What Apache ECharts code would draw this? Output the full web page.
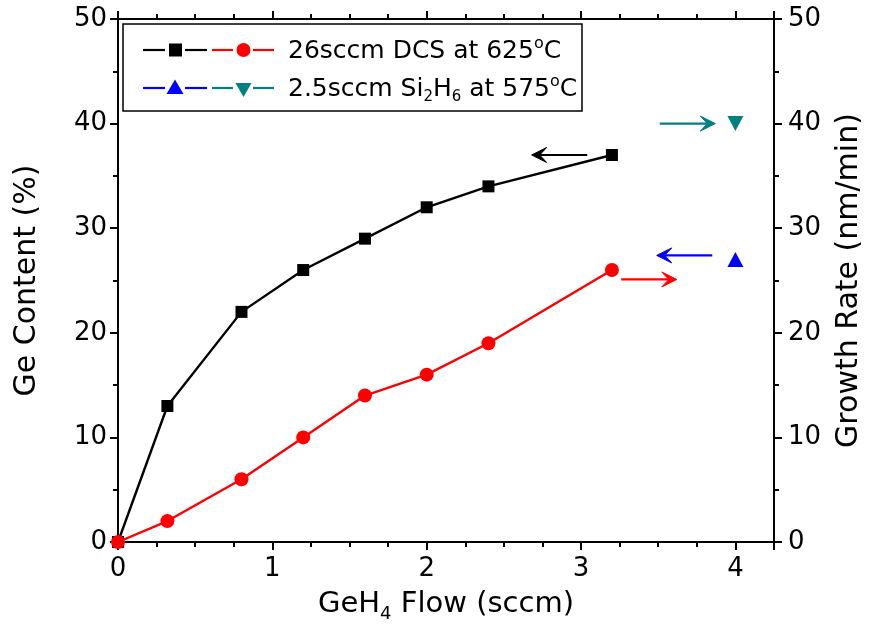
<!DOCTYPE html>
<html>
<head>
<meta charset="utf-8">
<script src="https://cdn.jsdelivr.net/npm/echarts@6/dist/echarts.min.js"></script>
<style>
html,body{margin:0;padding:0;background:#fff;}
#chart{width:872px;height:628px;}
</style>
</head>
<body>
<div id="chart"></div>
<script>
// ---- data ----
const flowDCS = [0, 0.32, 0.8, 1.2, 1.6, 2.0, 2.4, 3.2];
const geContentDCS = [0, 13, 22, 26, 29, 32, 34, 37];
const growthRateDCS = [0, 2, 6, 10, 14, 16, 19, 26];
const flowSi2H6 = [4];
const geContentSi2H6 = [27];
const growthRateSi2H6 = [40];
// arrows: [xTail, yTail, xHead, yHead] in data units
const arrowSegments = [
  [3.04, 37, 2.68, 37],
  [3.26, 25.1, 3.62, 25.1],
  [3.85, 27.4, 3.49, 27.4],
  [3.51, 40, 3.87, 40]
];
const xTicks = [0, 1, 2, 3, 4];
const yTicks = [0, 10, 20, 30, 40, 50];

// ---- styles ----
const arrowColors = ['#000000', '#ff0000', '#0000ff', '#008080'];
const FONT = 'DejaVu Sans';

const chart = echarts.init(document.getElementById('chart'), null, {renderer: 'canvas'});

const axisLineStyle = {lineStyle: {color: '#000', width: 2}};
const tickStyle = {lineStyle: {color: '#000', width: 2}};

const baseX = {
  type: 'value', min: xTicks[0], max: 4.25, interval: 1,
  axisLine: {show: true, onZero: false, ...axisLineStyle},
  axisTick: {show: true, inside: false, length: 8, ...tickStyle},
  minorTick: {show: true, splitNumber: 4, length: 5, lineStyle: {color: '#000', width: 2}},
  splitLine: {show: false}
};
const baseY = {
  type: 'value', min: yTicks[0], max: yTicks[yTicks.length - 1], interval: 10,
  axisLine: {show: true, onZero: false, ...axisLineStyle},
  axisTick: {show: true, inside: false, length: 8, ...tickStyle},
  minorTick: {show: true, splitNumber: 2, length: 5, lineStyle: {color: '#000', width: 2}},
  splitLine: {show: false}
};

const graphics = [
  {type: 'rect', shape: {x: 123, y: 24, width: 459, height: 87}, style: {fill: '#fff', stroke: '#000', lineWidth: 1.5}, z: 100},
  // row 1
  {type: 'line', shape: {x1: 143, y1: 50, x2: 165, y2: 50}, style: {stroke: '#000', lineWidth: 2.2}, z: 101},
  {type: 'line', shape: {x1: 185, y1: 50, x2: 207, y2: 50}, style: {stroke: '#000', lineWidth: 2.2}, z: 101},
  {type: 'rect', shape: {x: 169, y: 43.5, width: 13, height: 13}, style: {fill: '#000'}, z: 101},
  {type: 'line', shape: {x1: 212, y1: 50, x2: 233, y2: 50}, style: {stroke: '#ff0000', lineWidth: 2.2}, z: 101},
  {type: 'line', shape: {x1: 253, y1: 50, x2: 274, y2: 50}, style: {stroke: '#ff0000', lineWidth: 2.2}, z: 101},
  {type: 'circle', shape: {cx: 243.5, cy: 50, r: 7}, style: {fill: '#ff0000'}, z: 101},
  {type: 'text', x: 288, y: 51, style: {text: '26sccm DCS at 625{sup|o}C', font: '25px "DejaVu Sans"', fill: '#000', verticalAlign: 'middle',
     rich: {sup: {font: '16px "DejaVu Sans"', padding: [0, 0, 15, 0]}}}, z: 101},
  // row 2
  {type: 'line', shape: {x1: 143, y1: 88, x2: 165, y2: 88}, style: {stroke: '#0000ff', lineWidth: 2.2}, z: 101},
  {type: 'line', shape: {x1: 185, y1: 88, x2: 207, y2: 88}, style: {stroke: '#0000ff', lineWidth: 2.2}, z: 101},
  {type: 'polygon', shape: {points: [[175, 79.5], [183.5, 94], [166.5, 94]]}, style: {fill: '#0000ff'}, z: 101},
  {type: 'line', shape: {x1: 212, y1: 88, x2: 233, y2: 88}, style: {stroke: '#008080', lineWidth: 2.2}, z: 101},
  {type: 'line', shape: {x1: 253, y1: 88, x2: 274, y2: 88}, style: {stroke: '#008080', lineWidth: 2.2}, z: 101},
  {type: 'polygon', shape: {points: [[235.5, 83], [251.5, 83], [243.5, 97]]}, style: {fill: '#008080'}, z: 101},
  {type: 'text', x: 288, y: 89, style: {text: '2.5sccm Si{sub|2}H{sub|6} at 575{sup|o}C', font: '25px "DejaVu Sans"', fill: '#000', verticalAlign: 'middle',
     rich: {sup: {font: '16px "DejaVu Sans"', padding: [0, 0, 15, 0]}, sub: {font: '15px "DejaVu Sans"', padding: [17, 0, 0, 0]}}}, z: 101}
];

const option = {
  backgroundColor: '#fff',
  animation: false,
  textStyle: {fontFamily: FONT},
  grid: {left: 118, right: 98, top: 19, bottom: 85, containLabel: false},
  xAxis: [
    {...baseX, position: 'bottom',
      axisLabel: {show: true, margin: 14, color: '#000', fontSize: 26, fontFamily: FONT, showMaxLabel: false},
      name: 'GeH{sub|4} Flow (sccm)', nameLocation: 'middle', nameGap: 43,
      nameTextStyle: {color: '#000', fontSize: 29, fontFamily: FONT,
        rich: {sub: {fontSize: 18, fontFamily: FONT, padding: [20, 0, 0, 0]}}}
    },
    {...baseX, position: 'top', axisLabel: {show: false}}
  ],
  yAxis: [
    {...baseY, position: 'left',
      axisLabel: {show: true, margin: 11, color: '#000', fontSize: 26, fontFamily: FONT},
      name: 'Ge Content (%)', nameLocation: 'middle', nameGap: 76, nameRotate: 90,
      nameTextStyle: {color: '#000', fontSize: 30, fontFamily: FONT}
    },
    {...baseY, position: 'right',
      axisLabel: {show: true, margin: 14, color: '#000', fontSize: 26, fontFamily: FONT},
      name: 'Growth Rate (nm/min)', nameLocation: 'middle', nameGap: 60, nameRotate: 90,
      nameTextStyle: {color: '#000', fontSize: 30, fontFamily: FONT}
    }
  ],
  graphic: graphics,
  series: [
    {
      name: 'Ge content DCS', type: 'line', xAxisIndex: 0, yAxisIndex: 0,
      data: flowDCS.map((x, i) => [x, geContentDCS[i]]),
      symbol: 'rect', symbolSize: 12, showAllSymbol: true,
      lineStyle: {color: '#000', width: 2.4}, itemStyle: {color: '#000', opacity: 1}, z: 3
    },
    {
      name: 'Growth rate DCS', type: 'line', xAxisIndex: 0, yAxisIndex: 1,
      data: flowDCS.map((x, i) => [x, growthRateDCS[i]]),
      symbol: 'circle', symbolSize: 14, showAllSymbol: true,
      lineStyle: {color: '#ff0000', width: 2.4}, itemStyle: {color: '#ff0000', opacity: 1}, z: 4
    },
    {
      name: 'Ge content Si2H6', type: 'scatter', xAxisIndex: 0, yAxisIndex: 0,
      data: flowSi2H6.map((x, i) => [x, geContentSi2H6[i]]),
      symbol: 'triangle', symbolSize: [16, 15], itemStyle: {color: '#0000ff', opacity: 1}
    },
    {
      name: 'Growth rate Si2H6', type: 'scatter', xAxisIndex: 0, yAxisIndex: 1,
      data: flowSi2H6.map((x, i) => [x, growthRateSi2H6[i]]),
      symbol: 'triangle', symbolRotate: 180, symbolSize: [16, 15], itemStyle: {color: '#008080', opacity: 1}
    },
    {
      name: 'arrows', type: 'custom', xAxisIndex: 0, yAxisIndex: 0,
      data: arrowSegments,
      encode: {x: [0, 2], y: [1, 3]},
      renderItem: function (params, api) {
        const p1 = api.coord([api.value(0), api.value(1)]);
        const p2 = api.coord([api.value(2), api.value(3)]);
        const d = p2[0] > p1[0] ? 1 : -1;
        const L = 15, W = 7.5, N = 8;
        const c = arrowColors[params.dataIndex];
        return {
          type: 'group',
          children: [
            {type: 'line', shape: {x1: p1[0], y1: p1[1], x2: p2[0] - d * 7, y2: p2[1]}, style: {stroke: c, lineWidth: 2.2}},
            {type: 'polygon', shape: {points: [
                [p2[0], p2[1]], [p2[0] - d * L, p2[1] - W], [p2[0] - d * N, p2[1]], [p2[0] - d * L, p2[1] + W]]},
              style: {fill: c, stroke: c, lineWidth: 1, lineJoin: 'miter'}}
          ]
        };
      }
    }
  ]
};
chart.setOption(option);
</script>
</body>
</html>
